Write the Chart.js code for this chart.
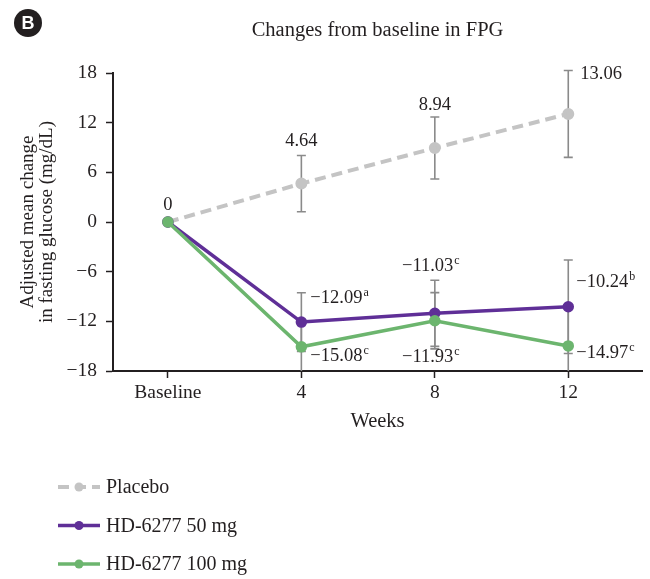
<!DOCTYPE html>
<html>
<head>
<meta charset="utf-8">
<script src="https://cdn.jsdelivr.net/npm/chart.js@4.4.1/dist/chart.umd.min.js"></script>
<style>
  html, body { margin: 0; padding: 0; background: #fff; }
  #wrap { width: 650px; height: 579px; }
</style>
</head>
<body>
<div id="wrap"><canvas id="fpgChart" width="650" height="579"></canvas></div>
<script>
// Datos
const weeks = [0, 4, 8, 12];
const xTickLabels = ['Baseline', '4', '8', '12'];
const yTicks = [-18, -12, -6, 0, 6, 12, 18];

const placebo = [0, 4.64, 8.94, 13.06];
const placeboErr = [0, 3.4, 3.75, 5.25];
const placeboSup = ['', '', '', ''];

const hd50 = [0, -12.09, -11.03, -10.24];
const hd50Err = [0, 3.55, 4.0, 5.65];
const hd50Sup = ['', 'a', 'c', 'b'];

const hd100 = [0, -15.08, -11.93, -14.97];
const hd100Err = [0, 3.2, 3.4, 4.8];
const hd100Sup = ['', 'c', 'c', 'c'];

const FONT = "'Liberation Serif', 'Times New Roman', serif";
const INK = '#231f20';

// formato con signo menos tipográfico
const fmt = v => v === 0 ? '0' : (v < 0 ? '\u2212' : '') + Math.abs(v).toFixed(2);
const fmtTick = v => v < 0 ? '\u2212' + Math.abs(v) : String(v);

// posición de las etiquetas respecto al punto (sólo maquetación)
const labelPlace = [
    [{ dx: 0, dy: -17, align: 'center' }, { dx: 0, dy: -42, align: 'center' }, { dx: 0, dy: -43, align: 'center' }, { dx: 12, dy: -40, align: 'left' }],
    [null, { dx: 9, dy: -24, align: 'left' }, { dx: -4, dy: -47, align: 'center' }, { dx: 8, dy: -25, align: 'left' }],
    [null, { dx: 9, dy: 9, align: 'left' }, { dx: -4, dy: 36, align: 'center' }, { dx: 8, dy: 7, align: 'left' }]
];

const toPoints = vals => weeks.map((w, i) => ({ x: w, y: vals[i] }));

// Barras de error (detrás de las líneas)
const errorBars = {
    id: 'errorBars',
    beforeDatasetsDraw(chart) {
        const { ctx, chartArea, scales: { x, y } } = chart;
        ctx.save();
        ctx.beginPath();
        ctx.rect(0, 0, chart.width, chartArea.bottom);
        ctx.clip();
        ctx.strokeStyle = '#8a8a8a';
        ctx.lineWidth = 1.6;
        chart.data.datasets.forEach(ds => {
            ds.data.forEach((p, i) => {
                const e = ds.errors[i];
                if (!e) return;
                const px = x.getPixelForValue(p.x);
                const top = y.getPixelForValue(p.y + e);
                const bot = y.getPixelForValue(p.y - e);
                ctx.beginPath();
                ctx.moveTo(px, top); ctx.lineTo(px, bot);
                ctx.moveTo(px - 4.5, top); ctx.lineTo(px + 4.5, top);
                ctx.moveTo(px - 4.5, bot); ctx.lineTo(px + 4.5, bot);
                ctx.stroke();
            });
        });
        ctx.restore();
    }
};

// Etiquetas de valores con superíndice
const valueLabels = {
    id: 'valueLabels',
    afterDatasetsDraw(chart) {
        const { ctx, scales: { x, y } } = chart;
        ctx.save();
        ctx.fillStyle = INK;
        ctx.textBaseline = 'middle';
        chart.data.datasets.forEach((ds, di) => {
            ds.data.forEach((p, i) => {
                const place = labelPlace[di][i];
                if (!place) return;
                const txt = fmt(p.y);
                const sup = ds.sups[i];
                ctx.font = `18.5px ${FONT}`;
                const w1 = ctx.measureText(txt).width;
                ctx.font = `12px ${FONT}`;
                const w2 = sup ? ctx.measureText(sup).width + 1 : 0;
                let lx = x.getPixelForValue(p.x) + place.dx;
                const ly = y.getPixelForValue(p.y) + place.dy;
                if (place.align === 'center') lx -= (w1 + w2) / 2;
                ctx.textAlign = 'left';
                ctx.font = `18.5px ${FONT}`;
                ctx.fillText(txt, lx, ly);
                if (sup) {
                    ctx.font = `12px ${FONT}`;
                    ctx.fillText(sup, lx + w1 + 1, ly - 5);
                }
            });
        });
        ctx.restore();
    }
};

// Título, insignia "B" y leyenda
const decorations = {
    id: 'decorations',
    afterDraw(chart) {
        const { ctx, chartArea } = chart;
        ctx.save();
        // insignia
        ctx.fillStyle = INK;
        ctx.beginPath();
        ctx.arc(28, 23, 14, 0, Math.PI * 2);
        ctx.fill();
        ctx.fillStyle = '#fff';
        ctx.font = "bold 18px 'Liberation Sans', Arial, sans-serif";
        ctx.textAlign = 'center';
        ctx.textBaseline = 'middle';
        ctx.fillText('B', 28, 24);

        // título
        ctx.fillStyle = INK;
        ctx.font = `20.5px ${FONT}`;
        ctx.fillText('Changes from baseline in FPG', (chartArea.left + chartArea.right) / 2, 31);

        // leyenda
        chart.data.datasets.forEach((ds, i) => {
            const ly = 487 + i * 38.5;
            ctx.strokeStyle = ds.borderColor;
            ctx.lineWidth = ds.borderWidth;
            ctx.setLineDash(ds.borderDash || []);
            ctx.beginPath();
            ctx.moveTo(58, ly); ctx.lineTo(100, ly);
            ctx.stroke();
            ctx.setLineDash([]);
            ctx.fillStyle = ds.pointBackgroundColor;
            ctx.beginPath();
            ctx.arc(79, ly, 4.5, 0, Math.PI * 2);
            ctx.fill();
            ctx.fillStyle = INK;
            ctx.font = `20px ${FONT}`;
            ctx.textAlign = 'left';
            ctx.fillText(ds.label, 106, ly + 1);
        });
        ctx.restore();
    }
};

const ctx = document.getElementById('fpgChart').getContext('2d');
new Chart(ctx, {
    type: 'line',
    data: {
        datasets: [
            {
                label: 'Placebo',
                data: toPoints(placebo),
                errors: placeboErr,
                sups: placeboSup,
                borderColor: '#c4c4c4',
                pointBackgroundColor: '#c4c4c4',
                borderWidth: 4,
                borderDash: [11, 6],
                order: 2
            },
            {
                label: 'HD-6277 50 mg',
                data: toPoints(hd50),
                errors: hd50Err,
                sups: hd50Sup,
                borderColor: '#5f2f97',
                pointBackgroundColor: '#5f2f97',
                borderWidth: 3.5,
                order: 1
            },
            {
                label: 'HD-6277 100 mg',
                data: toPoints(hd100),
                errors: hd100Err,
                sups: hd100Sup,
                borderColor: '#6cb56e',
                pointBackgroundColor: '#6cb56e',
                borderWidth: 3.5,
                order: 0
            }
        ]
    },
    options: {
        responsive: false,
        animation: false,
        devicePixelRatio: 1,
        layout: { padding: { left: 10, top: 73, right: 7, bottom: 144 } },
        elements: {
            point: { radius: 4, borderWidth: 0, hoverRadius: 4 },
            line: { tension: 0 }
        },
        plugins: {
            legend: { display: false },
            tooltip: { enabled: false }
        },
        scales: {
            x: {
                type: 'linear',
                min: -1.646,
                max: 14.21,
                afterBuildTicks: s => { s.ticks = weeks.map(v => ({ value: v })); },
                afterFit: s => { s.height = 64; },
                ticks: {
                    callback: (v, i) => xTickLabels[i],
                    color: INK,
                    font: { family: FONT, size: 19.5 },
                    padding: 3,
                    maxRotation: 0
                },
                grid: { drawOnChartArea: false, tickLength: 7, tickColor: INK, tickWidth: 1.5 },
                border: { color: INK, width: 2 },
                title: {
                    display: true,
                    text: 'Weeks',
                    color: INK,
                    font: { family: FONT, size: 20.5, lineHeight: 1.2 },
                    padding: { top: 0, bottom: 1 }
                }
            },
            y: {
                min: -18,
                max: 18,
                afterBuildTicks: s => { s.ticks = yTicks.map(v => ({ value: v })); },
                afterFit: s => { s.width = 103; },
                ticks: {
                    callback: v => fmtTick(v),
                    color: INK,
                    font: { family: FONT, size: 19.5 },
                    padding: 9
                },
                grid: { drawOnChartArea: false, tickLength: 7, tickColor: INK, tickWidth: 1.5 },
                border: { color: INK, width: 2 },
                title: {
                    display: true,
                    text: ['Adjusted mean change', 'in fasting glucose (mg/dL)'],
                    color: INK,
                    font: { family: FONT, size: 19, lineHeight: 1.0 },
                    padding: { top: 9, bottom: 0 }
                }
            }
        }
    },
    plugins: [errorBars, valueLabels, decorations]
});
</script>
</body>
</html>
